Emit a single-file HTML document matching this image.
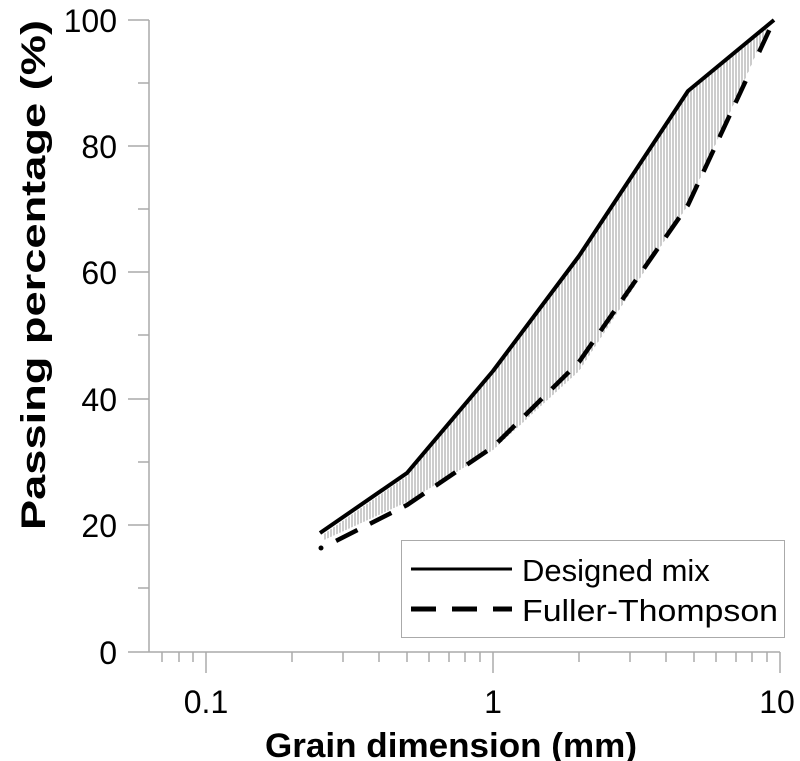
<!DOCTYPE html>
<html><head><style>body{margin:0;background:#fff}svg{display:block}text{font-family:"Liberation Sans",Arial,sans-serif;fill:#000}</style></head>
<body>
<svg width="800" height="761" viewBox="0 0 800 761" xmlns="http://www.w3.org/2000/svg">
<defs><pattern id="h" width="3" height="10" patternUnits="userSpaceOnUse"><rect width="3" height="10" fill="#fff"/><line x1="1" y1="0" x2="1" y2="10" stroke="#999" stroke-width="1"/></pattern></defs>
<g stroke="#aaa" stroke-width="1.5" fill="none">
<line x1="149" y1="20" x2="149" y2="652"/>
<line x1="128" y1="652" x2="780" y2="652"/>
<line x1="128" y1="20" x2="149" y2="20"/><line x1="138" y1="83" x2="149" y2="83"/>
<line x1="128" y1="146" x2="149" y2="146"/><line x1="138" y1="209" x2="149" y2="209"/>
<line x1="128" y1="272" x2="149" y2="272"/><line x1="138" y1="335" x2="149" y2="335"/>
<line x1="128" y1="399" x2="149" y2="399"/><line x1="138" y1="462" x2="149" y2="462"/>
<line x1="128" y1="525" x2="149" y2="525"/><line x1="138" y1="588" x2="149" y2="588"/>
<line x1="206" y1="652" x2="206" y2="673"/><line x1="493" y1="652" x2="493" y2="673"/><line x1="780" y1="652" x2="780" y2="673"/>
<line x1="162" y1="652" x2="162" y2="662"/><line x1="179" y1="652" x2="179" y2="662"/><line x1="193" y1="652" x2="193" y2="662"/>
<line x1="292" y1="652" x2="292" y2="662"/><line x1="343" y1="652" x2="343" y2="662"/><line x1="379" y1="652" x2="379" y2="662"/><line x1="407" y1="652" x2="407" y2="662"/><line x1="429" y1="652" x2="429" y2="662"/><line x1="449" y1="652" x2="449" y2="662"/><line x1="465" y1="652" x2="465" y2="662"/><line x1="480" y1="652" x2="480" y2="662"/>
<line x1="579" y1="652" x2="579" y2="662"/><line x1="630" y1="652" x2="630" y2="662"/><line x1="666" y1="652" x2="666" y2="662"/><line x1="694" y1="652" x2="694" y2="662"/><line x1="716" y1="652" x2="716" y2="662"/><line x1="736" y1="652" x2="736" y2="662"/><line x1="752" y1="652" x2="752" y2="662"/><line x1="767" y1="652" x2="767" y2="662"/>
</g>
<g font-size="32" text-anchor="end">
<text x="117" y="32">100</text><text x="117" y="158">80</text><text x="117" y="284">60</text><text x="117" y="411">40</text><text x="117" y="537">20</text><text x="117" y="664">0</text>
</g>
<g font-size="32" text-anchor="middle"><text x="206" y="713">0.1</text><text x="493" y="713">1</text><text x="777" y="713">10</text></g>
<text x="265" y="757" font-size="34" font-weight="bold" textLength="372" lengthAdjust="spacingAndGlyphs">Grain dimension (mm)</text>
<text transform="translate(45,530) rotate(-90)" font-size="34" font-weight="bold" textLength="510" lengthAdjust="spacingAndGlyphs">Passing percentage (%)</text>
<polygon points="324,534 407,476 493,373 579,258 688,94 769,24 750,68 688,205 579,371 493,450 407,502 324,540" fill="url(#h)"/>
<polyline points="320,533 407,473 493,371 579,256 688,91 774,20" fill="none" stroke="#000" stroke-width="4" stroke-linejoin="round"/>
<polyline points="320,549 407,505 493,447 579,362 688,205 774,20" fill="none" stroke="#000" stroke-width="4.5" stroke-dasharray="0 18 24 14 24 14 24 14 24 14 24 14 24 14 24 14 24 14 24 14 24 14 24 14 24 14 24 14 24 14 24 14 24 14 24 14" stroke-linecap="butt"/>
<circle cx="321" cy="548" r="2.5" fill="#000"/>
<rect x="401.5" y="540.5" width="383" height="97" fill="#fff" stroke="#aaa" stroke-width="1"/>
<line x1="411" y1="569" x2="512" y2="569" stroke="#000" stroke-width="3"/>
<line x1="411" y1="609" x2="512" y2="609" stroke="#000" stroke-width="5" stroke-dasharray="25 16"/>
<text x="522" y="581" font-size="31">Designed mix</text>
<text x="522" y="621" font-size="31" textLength="256" lengthAdjust="spacingAndGlyphs">Fuller-Thompson</text>
</svg>
</body></html>
